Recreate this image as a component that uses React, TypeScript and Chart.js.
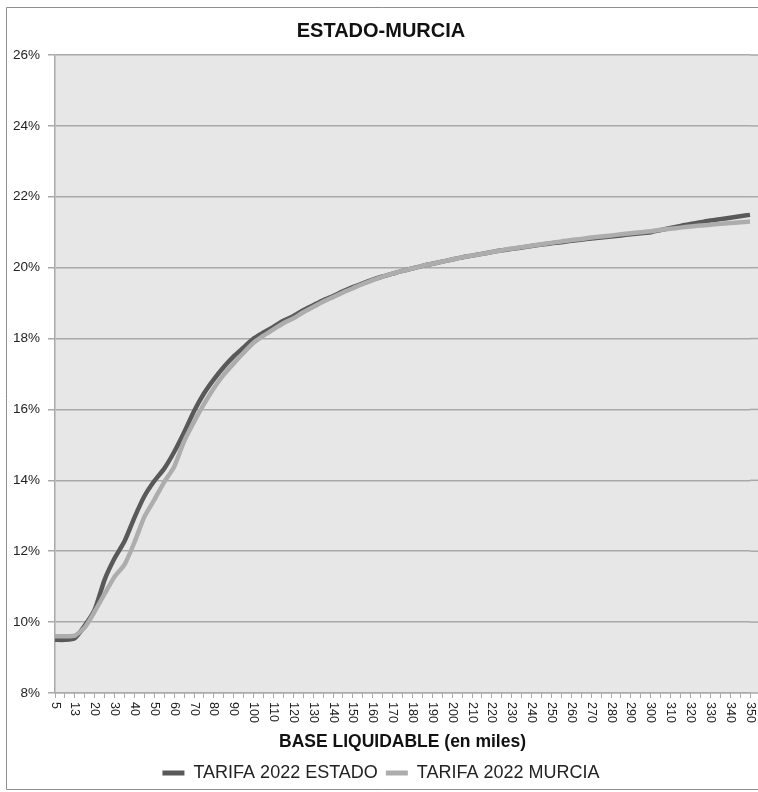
import React, { useEffect, useRef } from 'react';
import { Chart, registerables } from 'chart.js';

Chart.register(...registerables);

const FONT = '"Liberation Sans", Arial, sans-serif';

const TITLE = 'ESTADO-MURCIA';
const X_TITLE = 'BASE LIQUIDABLE (en miles)';
const SERIES_NAMES = ['TARIFA 2022 ESTADO', 'TARIFA 2022 MURCIA'];

const CATEGORIES = [
  '5', '10', '13', '15', '20', '25', '30', '35', '40', '45', '50', '55', '60', '65', '70', '75',
  '80', '85', '90', '95', '100', '105', '110', '115', '120', '125', '130', '135', '140', '145',
  '150', '155', '160', '165', '170', '175', '180', '185', '190', '195', '200', '205', '210',
  '215', '220', '225', '230', '235', '240', '245', '250', '255', '260', '265', '270', '275',
  '280', '285', '290', '295', '300', '305', '310', '315', '320', '325', '330', '335', '340',
  '345', '350',
];

const X_TICK_LABELS = [
  '5', '13', '20', '30', '40', '50', '60', '70', '80', '90', '100', '110', '120', '130', '140',
  '150', '160', '170', '180', '190', '200', '210', '220', '230', '240', '250', '260', '270',
  '280', '290', '300', '310', '320', '330', '340', '350',
];

const Y_MIN = 8;
const Y_MAX = 26;
const Y_STEP = 2;

const ESTADO = [
  9.5, 9.5, 9.55, 9.9, 10.35, 11.2, 11.8, 12.28, 12.95, 13.55, 13.98, 14.33, 14.8, 15.35, 15.95,
  16.45, 16.85, 17.2, 17.5, 17.75, 18.0, 18.17, 18.33, 18.5, 18.63, 18.8, 18.94, 19.08, 19.2,
  19.33, 19.45, 19.56, 19.66, 19.75, 19.83, 19.91, 19.98, 20.05, 20.11, 20.17, 20.23, 20.29,
  20.34, 20.39, 20.44, 20.49, 20.53, 20.57, 20.61, 20.65, 20.69, 20.72, 20.76, 20.79, 20.82,
  20.85, 20.88, 20.91, 20.94, 20.97, 21.0, 21.06, 21.12, 21.18, 21.23, 21.28, 21.33, 21.37,
  21.41, 21.45, 21.49,
];

const MURCIA = [
  9.6, 9.6, 9.62, 9.85, 10.3, 10.8, 11.28, 11.62, 12.25, 12.97, 13.45, 13.95, 14.38, 15.1, 15.65,
  16.15, 16.6, 16.98, 17.3, 17.6, 17.88, 18.08, 18.26, 18.43, 18.57, 18.74, 18.89, 19.04, 19.17,
  19.3, 19.42, 19.54, 19.65, 19.75, 19.83, 19.91, 19.98, 20.05, 20.11, 20.17, 20.23, 20.29,
  20.34, 20.39, 20.44, 20.49, 20.54, 20.58, 20.62, 20.66, 20.7, 20.74, 20.78, 20.81, 20.85,
  20.88, 20.91, 20.94, 20.97, 21.0, 21.03, 21.07, 21.1, 21.13, 21.16, 21.19, 21.21, 21.24,
  21.26, 21.28, 21.3,
];

const COLOR_ESTADO = '#595959';
const COLOR_MURCIA = '#adadad';
const GRID_COLOR = '#a9a9a9';

const backgroundPlugin = {
  id: 'plotBackground',
  beforeDraw(chart: any) {
    const { ctx, chartArea } = chart;
    ctx.save();
    ctx.fillStyle = '#ffffff';
    ctx.fillRect(0, 0, chart.width, chart.height);
    ctx.fillStyle = '#e7e7e7';
    ctx.fillRect(chartArea.left, chartArea.top, chart.width - chartArea.left, chartArea.bottom - chartArea.top);
    const ys = chart.scales.y;
    ctx.strokeStyle = GRID_COLOR;
    ctx.lineWidth = 1.5;
    ys.ticks.forEach((t: any) => {
      const y = ys.getPixelForValue(t.value);
      ctx.beginPath();
      ctx.moveTo(chartArea.right, y);
      ctx.lineTo(chart.width, y);
      ctx.stroke();
    });
    ctx.strokeStyle = '#8f8f8f';
    ctx.lineWidth = 1;
    ctx.beginPath();
    ctx.moveTo(chart.width, 7.5);
    ctx.lineTo(6.5, 7.5);
    ctx.lineTo(6.5, 789.5);
    ctx.lineTo(chart.width, 789.5);
    ctx.stroke();
    ctx.restore();
  },
};

const xLabelPlugin = {
  id: 'xRotatedLabels',
  afterDraw(chart: any) {
    const { ctx } = chart;
    const xs = chart.scales.x;
    ctx.save();
    ctx.font = `12.5px ${FONT}`;
    ctx.fillStyle = '#222222';
    ctx.textAlign = 'left';
    ctx.textBaseline = 'middle';
    X_TICK_LABELS.forEach((lbl) => {
      const idx = CATEGORIES.indexOf(lbl);
      const x = xs.getPixelForValue(idx);
      ctx.save();
      ctx.translate(x, xs.top + 9);
      ctx.rotate(Math.PI / 2);
      ctx.fillText(lbl, 0, 0);
      ctx.restore();
    });
    ctx.restore();
  },
};

export default function App() {
  const canvasRef = useRef<HTMLCanvasElement | null>(null);

  useEffect(() => {
    if (!canvasRef.current) return;
    const chart = new Chart(canvasRef.current, {
      type: 'line',
      data: {
        labels: CATEGORIES,
        datasets: [
          {
            label: SERIES_NAMES[0],
            data: ESTADO,
            borderColor: COLOR_ESTADO,
            backgroundColor: COLOR_ESTADO,
            borderWidth: 4.5,
            pointRadius: 0,
            tension: 0.2,
            order: 1,
          },
          {
            label: SERIES_NAMES[1],
            data: MURCIA,
            borderColor: COLOR_MURCIA,
            backgroundColor: COLOR_MURCIA,
            borderWidth: 4.5,
            pointRadius: 0,
            tension: 0.2,
            order: 0,
          },
        ],
      },
      options: {
        animation: false,
        responsive: false,
        devicePixelRatio: 1,
        layout: { padding: { left: 12, right: 8, top: 0, bottom: 0 } },
        plugins: {
          title: {
            display: true,
            text: TITLE,
            color: '#111111',
            font: { family: FONT, size: 20, weight: 'bold' },
            padding: { top: 19, bottom: 12 },
          },
          legend: {
            position: 'bottom',
            labels: {
              font: { family: FONT, size: 18 },
              color: '#222222',
              boxWidth: 22,
              boxHeight: 5,
              padding: 8,
              sort: (a: any, b: any) => a.datasetIndex - b.datasetIndex,
              generateLabels: (chart: any) =>
                Chart.defaults.plugins.legend.labels.generateLabels(chart).map((it: any) => ({
                  ...it,
                  fillStyle: it.strokeStyle,
                  lineWidth: 0,
                })),
            },
          },
          tooltip: { enabled: false },
        },
        scales: {
          x: {
            type: 'category',
            offset: false,
            grid: { drawOnChartArea: false, drawTicks: true, tickLength: 5, color: GRID_COLOR },
            border: { color: GRID_COLOR, width: 1.5 },
            ticks: { display: false },
            title: {
              display: true,
              text: X_TITLE,
              color: '#111111',
              font: { family: FONT, size: 17.5, weight: 'bold' },
              padding: { top: 0, bottom: 3 },
            },
            afterFit(scale: any) {
              scale.height = 63;
            },
          },
          y: {
            min: Y_MIN,
            max: Y_MAX,
            ticks: {
              stepSize: Y_STEP,
              callback: (v: any) => `${v}%`,
              font: { family: FONT, size: 13.5 },
              color: '#222222',
              padding: 8,
            },
            grid: { color: GRID_COLOR, lineWidth: 1.5, tickLength: 7 },
            border: { color: GRID_COLOR, width: 1.5 },
            afterFit(scale: any) {
              scale.width = 43;
            },
          },
        },
      },
      plugins: [backgroundPlugin, xLabelPlugin],
    });
    return () => chart.destroy();
  }, []);

  return (
    <div style={{ position: 'absolute', left: 0, top: 0, width: 758, height: 792 }}>
      <canvas ref={canvasRef} width={758} height={792} style={{ display: 'block' }} />
    </div>
  );
}
